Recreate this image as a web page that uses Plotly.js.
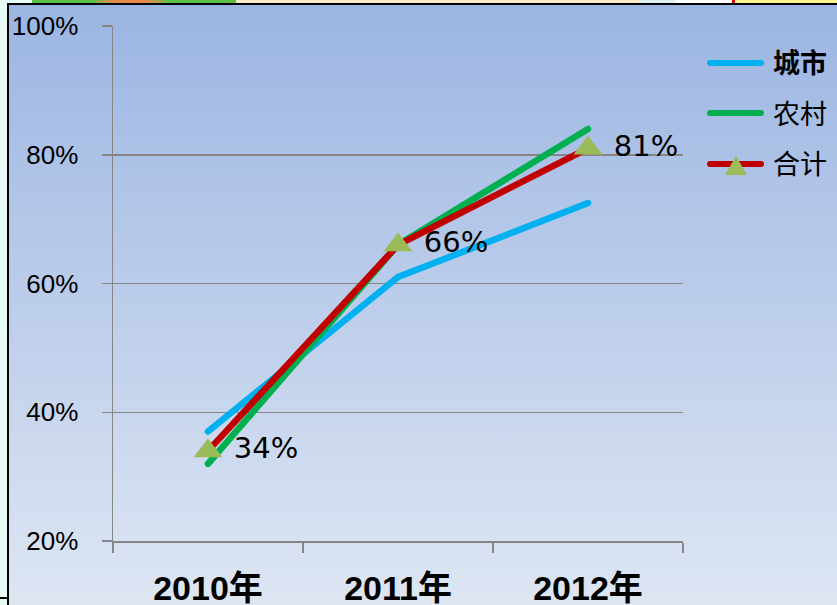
<!DOCTYPE html>
<html><head><meta charset="utf-8">
<script src="https://cdn.plot.ly/plotly-3.0.1.min.js"></script>
<style>
html,body{margin:0;padding:0;width:837px;height:605px;overflow:hidden;background:#e9fbf6;}
.strip{position:absolute;top:0;height:3px;}
#bg{position:absolute;left:7px;top:3px;width:830px;height:602px;background:linear-gradient(#9bb5e2,#dee6f3);border-left:2px solid #000;border-top:2px solid #000;box-sizing:border-box;}
#chart{position:absolute;left:0;top:0;width:837px;height:605px;}
.scatterlayer path.js-line{stroke-linecap:round;stroke-linejoin:round;}
.shapelayer path{stroke-linecap:round;}
</style></head><body>
<div class="strip" style="left:32px;width:204px;background:#5cbf48;"></div>
<div class="strip" style="left:95px;width:70px;background:#e98a4a;border-radius:50%;"></div>
<div class="strip" style="left:236px;width:404px;background:#fbeec6;"></div>
<div class="strip" style="left:640px;width:36px;background:#dff4f1;"></div>
<div class="strip" style="left:676px;width:56px;background:#ffffff;"></div>
<div class="strip" style="left:732px;width:3px;background:#e00000;"></div>
<div class="strip" style="left:735px;width:102px;background:#fff48a;"></div>
<div style="position:absolute;left:0;top:597px;width:7px;height:2px;background:#000;"></div>
<div id="bg"></div>
<div id="chart"></div>
<script>
const categories = ['2010年', '2011年', '2012年'];
const seriesNames = ['城市', '农村', '合计'];
const cityValues = [0.37, 0.61, 0.725];
const ruralValues = [0.32, 0.66, 0.84];
const totalValues = [0.34, 0.66, 0.81];
const yTickValues = [0.2, 0.4, 0.6, 0.8, 1.0];
const seriesColors = ['#00b0f0', '#00b050', '#c00000'];
const markerColor = '#9bbb59';

const W = 837, H = 605, L = 113, R = 154, T = 26, B = 64;
const pw = W - L - R, ph = H - T - B;
const px2x = p => (p - L) / pw;
const py2y = p => (H - B - p) / ph;

const valueSets = [cityValues, ruralValues, totalValues];
const traces = valueSets.map((vals, i) => {
  const t = {
    type: 'scatter', x: categories, y: vals, name: seriesNames[i],
    mode: 'lines', line: {color: seriesColors[i], width: 6.5}, showlegend: false,
    hoverinfo: 'none', cliponaxis: false
  };
  if (i === 2) {
    t.mode = 'lines+markers+text';
    t.marker = {symbol: 'triangle-up', size: 25, color: markerColor, line: {width: 0}};
    t.texttemplate = '\u00a0%{y:.0%}';
    t.textposition = 'middle right';
    t.textfont = {family: 'DejaVu Sans', size: 29, color: '#000'};
  }
  return t;
});

const legendY = [63, 113, 164];
const shapes = [];
const annotations = [];
seriesNames.forEach((n, i) => {
  shapes.push({type: 'line', xref: 'paper', yref: 'paper',
    x0: px2x(710), x1: px2x(761), y0: py2y(legendY[i]), y1: py2y(legendY[i]),
    line: {color: seriesColors[i], width: 6}});
  annotations.push({xref: 'paper', yref: 'paper', x: px2x(771), y: py2y(legendY[i] - 1),
    xanchor: 'left', yanchor: 'middle', showarrow: false,
    text: i === 0 ? '<b>' + n + '</b>' : n,
    font: {family: 'Noto Sans CJK SC', size: 27, color: '#000'}});
});
// legend triangle for 合计
const tx = 736, ty = 166;
shapes.push({type: 'path', xref: 'paper', yref: 'paper',
  path: 'M' + px2x(tx - 11) + ',' + py2y(ty + 9) + ' L' + px2x(tx + 11) + ',' + py2y(ty + 9) +
        ' L' + px2x(tx) + ',' + py2y(ty - 10) + ' Z',
  fillcolor: markerColor, line: {width: 0}});

const gridColor = '#868686';
const layout = {
  width: W, height: H,
  margin: {l: L, r: R, t: T, b: B, pad: 0},
  paper_bgcolor: 'rgba(0,0,0,0)', plot_bgcolor: 'rgba(0,0,0,0)',
  showlegend: false,
  xaxis: {
    type: 'category', range: [-0.5, 2.5], tickson: 'boundaries',
    ticks: 'outside', ticklen: 10, tickwidth: 1.5, tickcolor: gridColor,
    showline: true, linecolor: gridColor, linewidth: 1.5, showgrid: false,
    tickfont: {family: 'Liberation Sans, Noto Sans CJK SC', size: 34, weight: 'bold', color: '#000'},
    ticklabelstandoff: 17, fixedrange: true
  },
  yaxis: {
    range: [0.2, 1.0], tickvals: yTickValues, tickformat: '.0%',
    ticks: 'outside', ticklen: 10, tickwidth: 1.5, tickcolor: gridColor,
    showline: true, linecolor: gridColor, linewidth: 1.5,
    showgrid: true, gridcolor: gridColor, gridwidth: 1.5, zeroline: false,
    tickfont: {family: 'Liberation Sans', size: 26, color: '#000'},
    ticklabelstandoff: 18, fixedrange: true
  },
  shapes: shapes, annotations: annotations
};
Plotly.newPlot('chart', traces, layout, {displayModeBar: false, staticPlot: true});
</script>
</body></html>
